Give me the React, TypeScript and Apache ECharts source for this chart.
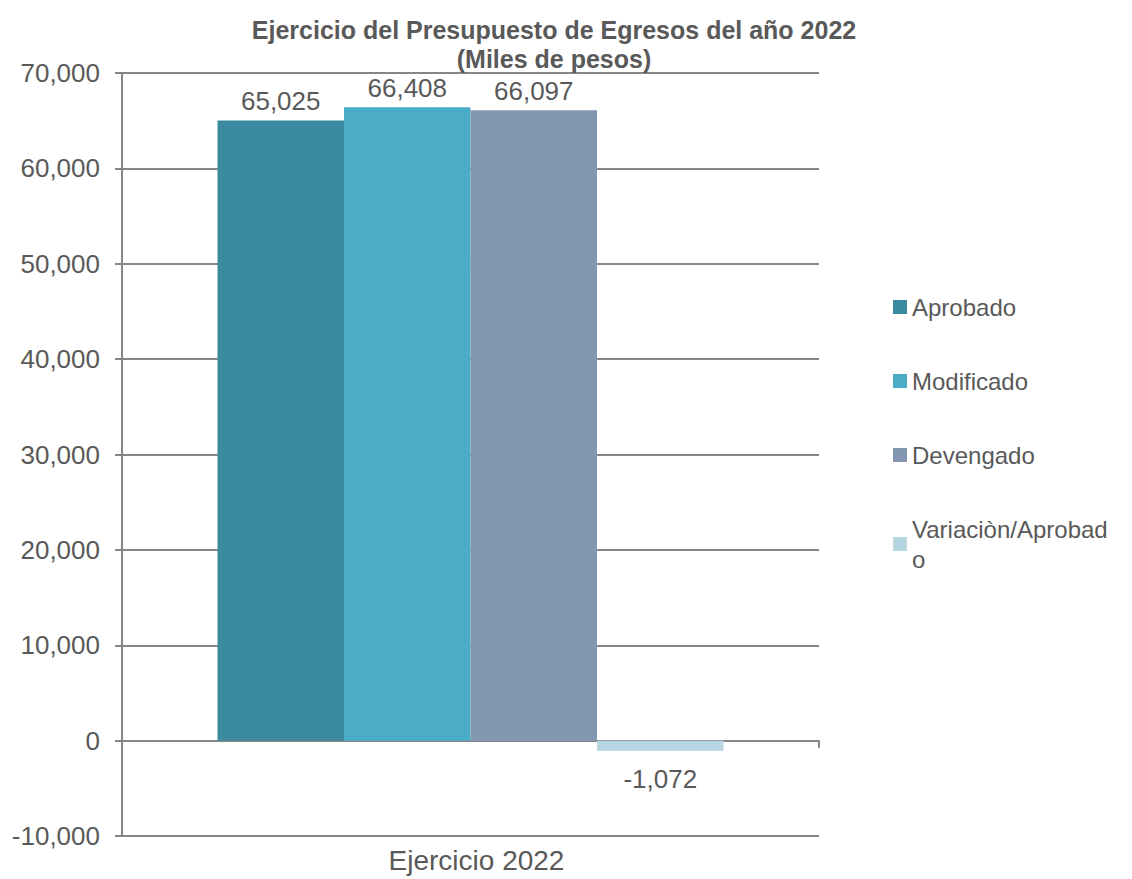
import React, { useEffect, useRef } from "react";
import * as echarts from "echarts";

const categories = ["Ejercicio 2022"];
const seriesNames = ["Aprobado", "Modificado", "Devengado", "Variaciòn/Aprobado"];
const aprobado = [65025];
const modificado = [66408];
const devengado = [66097];
const variacion = [-1072];
const colors = ["#3B8AA0", "#4BACC6", "#8497B0", "#B6D7E1"];
const yTicks = { min: -10000, max: 70000, interval: 10000 };

const FONT = "'Liberation Sans', Arial, sans-serif";
const TXT = "#595959";
const fmt = (v: number) => Number(v).toLocaleString("en-US");

export default function App() {
  const ref = useRef<HTMLDivElement>(null);
  useEffect(() => {
    document.body.style.margin = "0";
    const chart = echarts.init(ref.current!, null, { renderer: "svg" });
    const data = [aprobado, modificado, devengado, variacion];
    chart.setOption({
      animation: false,
      backgroundColor: "#fff",
      textStyle: { fontFamily: FONT },
      title: {
        text: "{a|Ejercicio del Presupuesto de Egresos del año 2022}\n{b|(Miles de pesos)}",
        left: 554,
        top: 15,
        padding: 0,
        textAlign: "center",
        textStyle: {
          rich: {
            a: { fontFamily: FONT, fontSize: 25, fontWeight: "bold", color: TXT, lineHeight: 29 },
            b: { fontFamily: FONT, fontSize: 25, fontWeight: "bold", color: TXT, lineHeight: 29, backgroundColor: "#fff", padding: [0, 3, 0, 3] },
          },
        },
      },
      legend: {
        orient: "vertical",
        left: 893,
        top: 292,
        padding: 0,
        itemWidth: 14,
        itemHeight: 14,
        itemGap: 44,
        icon: "rect",
        data: seriesNames,
        formatter: (n: string) => (n === "Variaciòn/Aprobado" ? "Variaciòn/Aprobad\no" : n),
        textStyle: { fontFamily: FONT, fontSize: 24, color: TXT, lineHeight: 30 },
      },
      grid: { left: 122, right: 313, top: 73, bottom: 43, containLabel: false },
      xAxis: [
        {
          type: "category",
          data: categories,
          position: "bottom",
          axisLine: { show: false, onZero: false },
          axisTick: { show: false },
          axisLabel: { fontFamily: FONT, fontSize: 28, color: TXT, margin: 10, padding: [0, 0, 0, 12] },
        },
        {
          type: "category",
          data: categories,
          position: "bottom",
          axisLine: { show: true, onZero: true, lineStyle: { color: "#868686", width: 2 } },
          axisTick: { show: true, length: 7, lineStyle: { color: "#868686", width: 2 } },
          axisLabel: { show: false },
        },
      ],
      yAxis: {
        type: "value",
        min: yTicks.min,
        max: yTicks.max,
        interval: yTicks.interval,
        axisLine: { show: true, lineStyle: { color: "#868686", width: 2 } },
        axisTick: { show: true, length: 7, lineStyle: { color: "#868686", width: 2 } },
        splitLine: { lineStyle: { color: "#868686", width: 2 } },
        axisLabel: { fontFamily: FONT, fontSize: 26, color: TXT, margin: 22, formatter: fmt },
      },
      series: seriesNames.map((name, i) => ({
        name,
        type: "bar",
        xAxisIndex: 0,
        data: data[i],
        barGap: "0%",
        barCategoryGap: "27.4%",
        itemStyle: { color: colors[i] },
        label: {
          show: true,
          position: data[i][0] < 0 ? "bottom" : "top",
          distance: data[i][0] < 0 ? 15 : 6,
          formatter: (p: any) => fmt(p.value),
          fontFamily: FONT,
          fontSize: 26,
          color: TXT,
        },
      })),
    });
    return () => chart.dispose();
  }, []);
  return <div ref={ref} style={{ width: 1132, height: 879 }} />;
}
